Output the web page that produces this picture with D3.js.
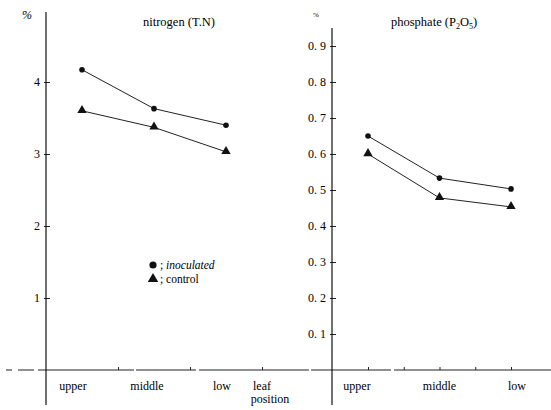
<!DOCTYPE html>
<html>
<head>
<meta charset="utf-8">
<script src="https://cdn.jsdelivr.net/npm/d3@7"></script>
<style>
  body { margin: 0; background: #fff; }
</style>
</head>
<body>
<div id="chart"></div>
<script>
// leaf positions along the x axis
var positions = ["upper", "middle", "low"];

// nitrogen (T.N), %
var nInoculated = [4.17, 3.63, 3.40];
var nControl = [3.60, 3.37, 3.03];

// phosphate (P2O5), %
var pInoculated = [0.65, 0.533, 0.503];
var pControl = [0.60, 0.478, 0.453];

var nTicks = [1, 2, 3, 4];
var pTicks = [0.1, 0.2, 0.3, 0.4, 0.5, 0.6, 0.7, 0.8, 0.9];

var W = 551, H = 410, baseY = 370;
var serif = '"Liberation Serif", "DejaVu Serif", serif';

var svg = d3.select('#chart').append('svg')
  .attr('width', W).attr('height', H);

// shared horizontal axis line, dashed at the far left
svg.append('line')
  .attr('x1', 6).attr('x2', 44).attr('y1', baseY).attr('y2', baseY)
  .attr('stroke', '#222').attr('stroke-dasharray', '6 6 16 4');
svg.append('line')
  .attr('x1', 44).attr('x2', W).attr('y1', baseY).attr('y2', baseY)
  .attr('stroke', '#222').attr('stroke-width', 1)
  .attr('stroke-dasharray', '90 2 60 3 110 2 80 3 200');

function panel(opt) {
  var g = svg.append('g');
  var x = d3.scaleLinear().domain([0, 2]).range(opt.xRange);
  var y = d3.scaleLinear().domain([0, opt.yMax]).range([baseY, baseY - opt.pxPerUnit * opt.yMax]);

  // y axis
  var yAxis = d3.axisLeft(y).tickValues(opt.ticks).tickSize(-4).tickPadding(6)
    .tickFormat(opt.fmt);
  var ga = g.append('g').attr('transform', 'translate(' + opt.axisX + ',0)').call(yAxis);
  ga.attr('font-family', serif).attr('font-size', 12);
  ga.select('.domain').remove();
  ga.selectAll('line').attr('stroke', '#222').attr('x1', -2);
  g.append('line')
    .attr('x1', opt.axisX).attr('x2', opt.axisX)
    .attr('y1', opt.axisTop).attr('y2', 405)
    .attr('stroke', '#111').attr('stroke-width', 1.2);

  // x ticks on baseline
  var xAxis = d3.axisBottom(x).tickValues(opt.xTicks).tickSize(-3).tickFormat('');
  var gx = g.append('g').attr('transform', 'translate(0,' + baseY + ')').call(xAxis);
  gx.select('.domain').remove();
  gx.selectAll('line').attr('stroke', '#222');

  // category labels
  g.selectAll('text.cat').data(positions).enter().append('text')
    .attr('class', 'cat')
    .attr('x', function (d, i) { return x(i) + opt.labelShift[i]; })
    .attr('y', 390)
    .attr('text-anchor', 'middle')
    .attr('font-family', serif).attr('font-size', 12)
    .text(function (d) { return d; });

  var line = d3.line()
    .x(function (d, i) { return x(i); })
    .y(function (d) { return y(d); });

  [opt.inoc, opt.ctrl].forEach(function (s) {
    g.append('path').datum(s)
      .attr('d', line)
      .attr('fill', 'none')
      .attr('stroke', '#222')
      .attr('stroke-width', 1);
  });

  g.selectAll('circle.pt').data(opt.inoc).enter().append('circle')
    .attr('class', 'pt')
    .attr('cx', function (d, i) { return x(i); })
    .attr('cy', function (d) { return y(d); })
    .attr('r', 2.8)
    .attr('fill', '#111');

  g.selectAll('path.tri').data(opt.ctrl).enter().append('path')
    .attr('class', 'tri')
    .attr('d', d3.symbol().type(d3.symbolTriangle).size(38))
    .attr('transform', function (d, i) { return 'translate(' + x(i) + ',' + (y(d) - 0.5) + ')'; })
    .attr('fill', '#111');

  g.append('text')
    .attr('x', opt.titleX).attr('y', 26)
    .attr('font-family', serif).attr('font-size', 12.5)
    .html(opt.title);

  return { x: x, y: y };
}

panel({
  xRange: [82, 226], axisX: 46, axisTop: 12, yMax: 5, pxPerUnit: 72,
  ticks: nTicks, fmt: d3.format('d'), xTicks: [0.5, 1.5, 2.5],
  labelShift: [-9, -7, -4],
  inoc: nInoculated, ctrl: nControl,
  titleX: 143, title: 'nitrogen (T.N)'
});

panel({
  xRange: [368, 511], axisX: 332, axisTop: 28, yMax: 1, pxPerUnit: 360,
  ticks: pTicks, fmt: function (d) { return d3.format('.1f')(d).replace('.', '. '); },
  xTicks: [0, 0.5, 1, 1.5, 2],
  labelShift: [-11, 0, 6],
  inoc: pInoculated, ctrl: pControl,
  titleX: 391, title: 'phosphate (P<tspan dy="3" font-size="8">2</tspan><tspan dy="-3">O</tspan><tspan dy="3" font-size="8">5</tspan><tspan dy="-3">)</tspan>'
});

// percent signs
svg.append('text').attr('x', 22).attr('y', 19)
  .attr('font-family', serif).attr('font-size', 12).attr('font-style', 'italic').text('%');
svg.append('text').attr('x', 313).attr('y', 17)
  .attr('font-family', serif).attr('font-size', 7).text('%');

// "leaf position" label
svg.append('text').attr('x', 262).attr('y', 390).attr('text-anchor', 'middle')
  .attr('font-family', serif).attr('font-size', 12).text('leaf');
svg.append('text').attr('x', 270).attr('y', 403).attr('text-anchor', 'middle')
  .attr('font-family', serif).attr('font-size', 12).text('position');

// legend
var lg = svg.append('g').attr('font-family', serif).attr('font-size', 11.5);
lg.append('circle').attr('cx', 153).attr('cy', 265).attr('r', 3.6).attr('fill', '#111');
lg.append('text').attr('x', 160).attr('y', 269)
  .html('; <tspan font-style="italic">inoculated</tspan>');
lg.append('path').attr('d', d3.symbol().type(d3.symbolTriangle).size(48))
  .attr('transform', 'translate(153,279)').attr('fill', '#111');
lg.append('text').attr('x', 160).attr('y', 283).text('; control');
</script>
</body>
</html>
